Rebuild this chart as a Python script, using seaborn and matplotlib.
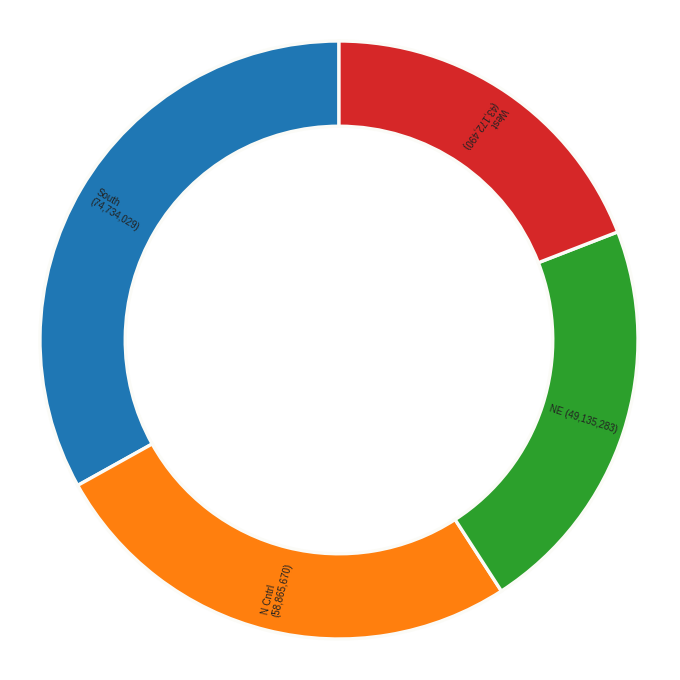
import matplotlib
matplotlib.use("Agg")
import matplotlib.pyplot as plt
import seaborn as sns
import numpy as np

sns.set_theme(style="white")
plt.rcParams['font.family'] = ['Liberation Sans', 'DejaVu Sans']

regions = ["South", "N Cntrl", "NE", "West"]
population = [74734029, 58865670, 49135283, 43172490]
label_texts = ["South\n(74,734,029)", "N Cntrl\n(58,865,670)", "NE (49,135,283)", "West\n(43,172,490)"]
colors = sns.color_palette("tab10", 4)

fig = plt.figure(figsize=(6.8, 6.8), dpi=100)
ax = fig.add_axes([40/680, 41/680, 598/680, 598/680])
width = 0.285
wedges, _ = ax.pie(population, colors=colors, startangle=90, counterclock=True,
                   radius=1.0, wedgeprops=dict(width=width, edgecolor="#fbfbf7", linewidth=2.4))
ax.set_xlim(-1, 1)
ax.set_ylim(-1, 1)
ax.set_aspect("equal")
ax.axis("off")

rmid = 1 - width / 2
for w, txt in zip(wedges, label_texts):
    theta = (w.theta1 + w.theta2) / 2
    theta = (theta + 180) % 360 - 180
    x, y = rmid * np.cos(np.radians(theta)), rmid * np.sin(np.radians(theta))
    if -90 <= theta <= 90:
        rot = theta
    else:
        rot = theta - 180
    if 0 < theta < 90:
        rot += 180
    ax.text(x, y, txt, rotation=rot, rotation_mode="anchor", ha="center", va="center",
            fontsize=7, color="#222222", multialignment="left")

fig.savefig("out.png", dpi=100, facecolor="white")
